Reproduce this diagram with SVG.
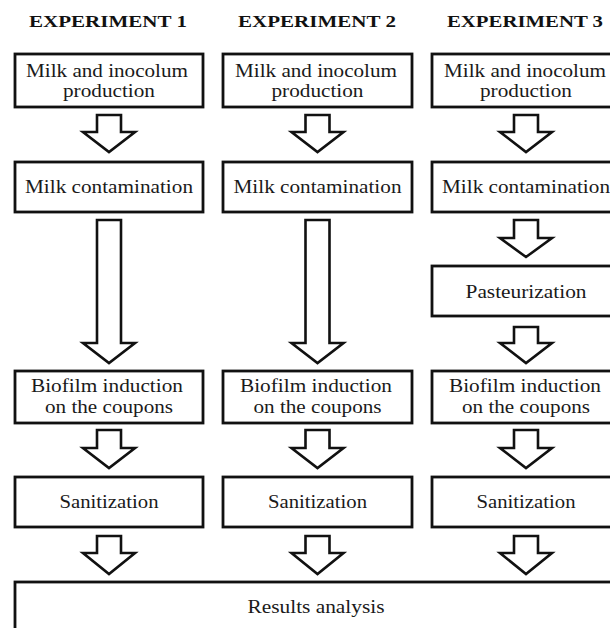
<svg xmlns="http://www.w3.org/2000/svg" width="610" height="628" viewBox="0 0 610 628">
<style>
.box{fill:#fff;stroke:#111;stroke-width:2.8}
.arr{fill:#fff;stroke:#111;stroke-width:2.6;stroke-linejoin:miter}
.t{font-family:"Liberation Serif","Times New Roman",serif;font-size:18px;fill:#1a1a1a;text-anchor:middle}
.h{font-family:"Liberation Serif","Times New Roman",serif;font-size:17px;font-weight:bold;fill:#111;text-anchor:middle}
</style>
<rect width="610" height="628" fill="#fff"/>
<g id="headers">
<text class="h" x="108" y="27" textLength="158" lengthAdjust="spacingAndGlyphs">EXPERIMENT 1</text>
<text class="h" x="317" y="27" textLength="158" lengthAdjust="spacingAndGlyphs">EXPERIMENT 2</text>
<text class="h" x="525" y="27" textLength="156" lengthAdjust="spacingAndGlyphs">EXPERIMENT 3</text>
</g>
<g id="connectors">
<path class="arr" d="M97,115H121V132H135L109,152L83,132H97Z"/>
<path class="arr" d="M97,220H121V343H135L109,363L83,343H97Z"/>
<path class="arr" d="M97,430H121V448H135L109,468L83,448H97Z"/>
<path class="arr" d="M97,536H121V553H135L109,574L83,553H97Z"/>
<path class="arr" d="M305.5,115H329.5V132H343.5L317.5,152L291.5,132H305.5Z"/>
<path class="arr" d="M305.5,220H329.5V343H343.5L317.5,363L291.5,343H305.5Z"/>
<path class="arr" d="M305.5,430H329.5V448H343.5L317.5,468L291.5,448H305.5Z"/>
<path class="arr" d="M305.5,536H329.5V553H343.5L317.5,574L291.5,553H305.5Z"/>
<path class="arr" d="M514,115H538V132H552L526,152L500,132H514Z"/>
<path class="arr" d="M514,220H538V238H552L526,257L500,238H514Z"/>
<path class="arr" d="M514,327H538V343H552L526,363L500,343H514Z"/>
<path class="arr" d="M514,430H538V448H552L526,468L500,448H514Z"/>
<path class="arr" d="M514,536H538V553H552L526,574L500,553H514Z"/>
</g>
<g id="e1-milk"><rect class="box" x="15" y="54" width="188" height="53"/><text class="t" x="107" y="77" textLength="162" lengthAdjust="spacingAndGlyphs">Milk and inocolum</text><text class="t" x="109" y="97" textLength="92" lengthAdjust="spacingAndGlyphs">production</text></g>
<g id="e2-milk"><rect class="box" x="223" y="54" width="189" height="53"/><text class="t" x="316" y="77" textLength="162" lengthAdjust="spacingAndGlyphs">Milk and inocolum</text><text class="t" x="317.5" y="97" textLength="92" lengthAdjust="spacingAndGlyphs">production</text></g>
<g id="e3-milk"><rect class="box" x="432" y="54" width="190" height="53"/><text class="t" x="525" y="77" textLength="162" lengthAdjust="spacingAndGlyphs">Milk and inocolum</text><text class="t" x="526" y="97" textLength="92" lengthAdjust="spacingAndGlyphs">production</text></g>
<g id="e1-contam"><rect class="box" x="15" y="162" width="188" height="50"/><text class="t" x="109" y="193" textLength="168" lengthAdjust="spacingAndGlyphs">Milk contamination</text></g>
<g id="e2-contam"><rect class="box" x="223" y="162" width="189" height="50"/><text class="t" x="317.5" y="193" textLength="168" lengthAdjust="spacingAndGlyphs">Milk contamination</text></g>
<g id="e3-contam"><rect class="box" x="432" y="162" width="190" height="50"/><text class="t" x="526" y="193" textLength="168" lengthAdjust="spacingAndGlyphs">Milk contamination</text></g>
<g id="e3-pasteur"><rect class="box" x="432" y="266" width="190" height="50"/><text class="t" x="526" y="298" textLength="121" lengthAdjust="spacingAndGlyphs">Pasteurization</text></g>
<g id="e1-biofilm"><rect class="box" x="15" y="371" width="188" height="52"/><text class="t" x="107" y="392" textLength="152" lengthAdjust="spacingAndGlyphs">Biofilm induction</text><text class="t" x="109" y="413" textLength="128" lengthAdjust="spacingAndGlyphs">on the coupons</text></g>
<g id="e2-biofilm"><rect class="box" x="223" y="371" width="189" height="52"/><text class="t" x="316" y="392" textLength="152" lengthAdjust="spacingAndGlyphs">Biofilm induction</text><text class="t" x="317.5" y="413" textLength="128" lengthAdjust="spacingAndGlyphs">on the coupons</text></g>
<g id="e3-biofilm"><rect class="box" x="432" y="371" width="190" height="52"/><text class="t" x="525" y="392" textLength="152" lengthAdjust="spacingAndGlyphs">Biofilm induction</text><text class="t" x="526" y="413" textLength="128" lengthAdjust="spacingAndGlyphs">on the coupons</text></g>
<g id="e1-sanit"><rect class="box" x="15" y="477" width="188" height="50"/><text class="t" x="109" y="508" textLength="99" lengthAdjust="spacingAndGlyphs">Sanitization</text></g>
<g id="e2-sanit"><rect class="box" x="223" y="477" width="189" height="50"/><text class="t" x="317.5" y="508" textLength="99" lengthAdjust="spacingAndGlyphs">Sanitization</text></g>
<g id="e3-sanit"><rect class="box" x="432" y="477" width="190" height="50"/><text class="t" x="526" y="508" textLength="99" lengthAdjust="spacingAndGlyphs">Sanitization</text></g>
<g id="results"><rect class="box" x="15" y="582" width="607" height="60"/><text class="t" x="316" y="613" textLength="137" lengthAdjust="spacingAndGlyphs">Results analysis</text></g>
</svg>
